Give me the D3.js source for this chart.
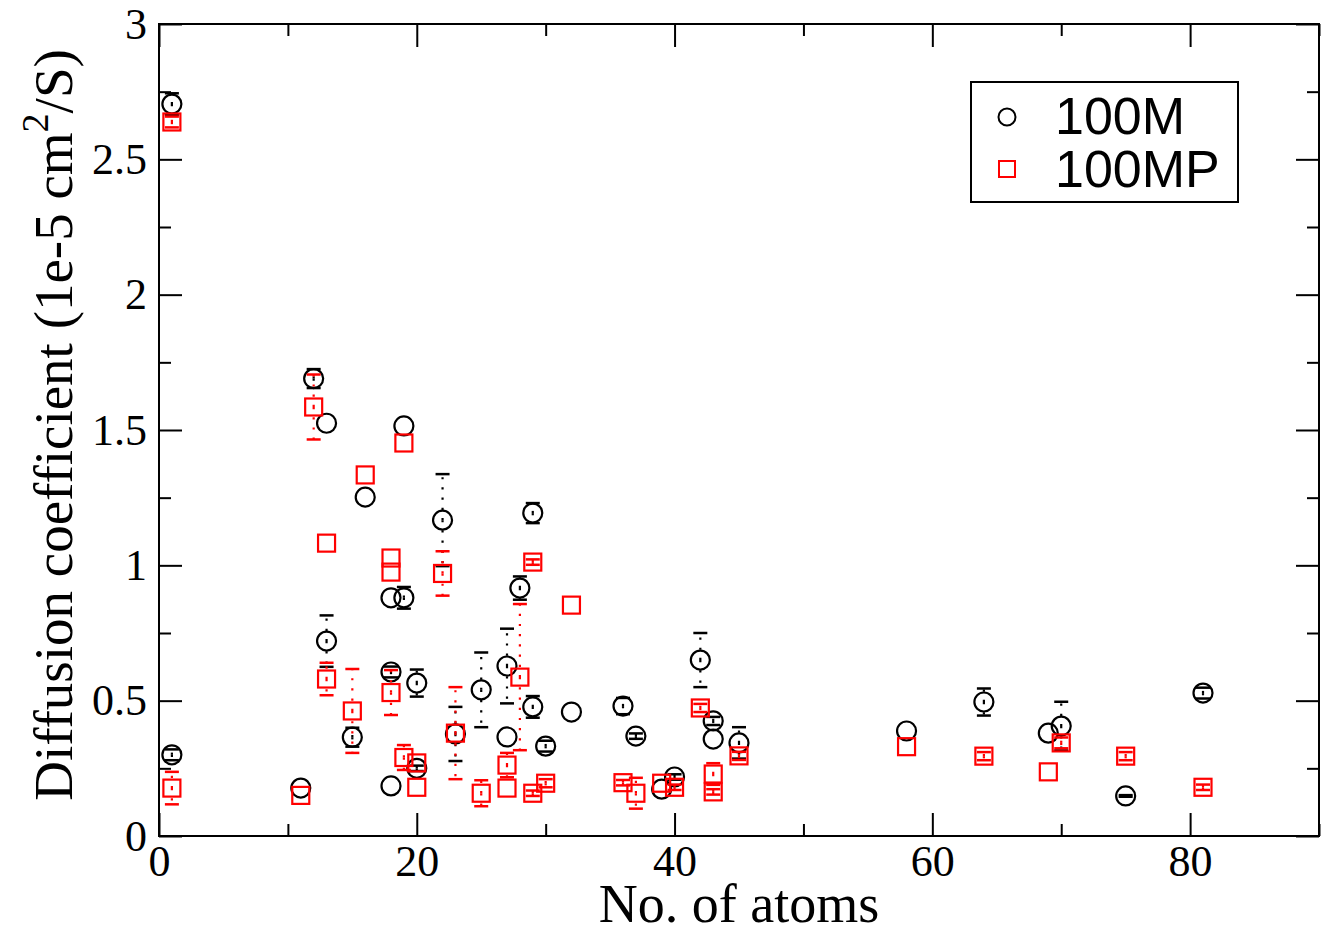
<!DOCTYPE html>
<html>
<head>
<meta charset="utf-8">
<script src="https://cdn.jsdelivr.net/npm/d3@7"></script>
<style>
  body { margin: 0; background: #fff; }
  svg { display: block; }
</style>
</head>
<body>
<div id="container"></div>
<script>
// data: x = no. of atoms, y = diffusion coeff, e = +/- error
let xM = [1, 1, 11, 12, 13, 13, 15, 16, 18, 18, 18, 19, 19, 20, 20, 22, 23, 25, 27, 27, 28, 29, 29, 30, 32, 36, 37, 39, 40, 42, 43, 43, 45, 58, 64, 69, 70, 75, 81];
let yM = [2.704, 0.30, 0.177, 1.69, 1.525, 0.72, 0.365, 1.252, 0.88, 0.606, 0.185, 1.515, 0.88, 0.565, 0.25, 1.167, 0.377, 0.54, 0.628, 0.366, 0.916, 1.193, 0.477, 0.332, 0.458, 0.48, 0.369, 0.173, 0.218, 0.65, 0.425, 0.358, 0.344, 0.388, 0.495, 0.38, 0.406, 0.148, 0.528];
let eM = [0.04, 0.02, 0, 0.035, 0, 0.095, 0.035, 0, 0, 0.02, 0, 0, 0.04, 0.05, 0.01, 0.17, 0.1, 0.138, 0.138, 0, 0.043, 0.037, 0.04, 0.02, 0, 0.03, 0.01, 0, 0.01, 0.1, 0.015, 0, 0.058, 0, 0.05, 0, 0.09, 0.003, 0.02];

let xMP = [1, 1, 11, 12, 13, 13, 15, 16, 18, 18, 18, 19, 19, 20, 20, 22, 23, 25, 27, 27, 28, 29, 29, 30, 32, 36, 37, 39, 40, 42, 43, 43, 45, 58, 64, 69, 70, 75, 81];
let yMP = [2.638, 0.177, 0.15, 1.585, 1.082, 0.58, 0.462, 1.334, 1.027, 0.975, 0.53, 1.452, 0.29, 0.27, 0.18, 0.97, 0.38, 0.158, 0.262, 0.177, 0.587, 1.012, 0.158, 0.195, 0.853, 0.197, 0.158, 0.195, 0.18, 0.473, 0.229, 0.163, 0.296, 0.33, 0.295, 0.237, 0.344, 0.295, 0.18];
let eMP = [0.02, 0.06, 0, 0.12, 0, 0.06, 0.155, 0, 0, 0, 0.083, 0, 0.046, 0, 0, 0.082, 0.17, 0.048, 0.045, 0, 0.27, 0.01, 0.01, 0.015, 0, 0.01, 0.057, 0, 0.01, 0.015, 0.04, 0.01, 0.015, 0, 0.015, 0, 0.02, 0.015, 0.01];

let seriesNames = ["100M", "100MP"];
let xMajor = [0, 20, 40, 60, 80];
let xMinor = [10, 30, 50, 70, 90];
let yMajor = [0, 0.5, 1, 1.5, 2, 2.5, 3];
let yMinor = [0.25, 0.75, 1.25, 1.75, 2.25, 2.75];

let w = 1321;
let h = 933;
// plot box (window.top is taken, so p-prefixed)
let pLeft = 159, pTop = 24, pRight = 1319, pBottom = 836;

let viz = d3.select("#container")
  .append("svg")
    .attr("width", w)
    .attr("height", h)
;

let xScale = d3.scaleLinear().domain([0, 90]).range([pLeft, pRight]);
let yScale = d3.scaleLinear().domain([0, 3]).range([pBottom, pTop]);

let serif = "'Liberation Serif', 'Times New Roman', serif";

// axes, ticks pointing inwards on all four sides
function addAxis(axis, tx, ty, vals, len, labels){
  let g = viz.append("g")
    .attr("transform", "translate(" + tx + "," + ty + ")")
    .call(axis.tickValues(vals).tickSize(-len).tickSizeOuter(0));
  g.select(".domain").remove();
  g.selectAll("line").attr("stroke", "#000").attr("stroke-width", 2);
  if(!labels){
    g.selectAll("text").remove();
  }
  return g;
}

let xb = addAxis(d3.axisBottom(xScale).tickPadding(9), 0, pBottom, xMajor, 23, true);
xb.selectAll("text").attr("font-family", serif).attr("font-size", 44).attr("fill", "#000");
addAxis(d3.axisBottom(xScale), 0, pBottom, xMinor, 12, false);
addAxis(d3.axisTop(xScale), 0, pTop, xMajor, 23, false);
addAxis(d3.axisTop(xScale), 0, pTop, xMinor, 12, false);

let yl = addAxis(d3.axisLeft(yScale).tickPadding(12).tickFormat(d3.format("")), pLeft, 0, yMajor, 23, true);
yl.selectAll("text").attr("font-family", serif).attr("font-size", 44).attr("fill", "#000");
addAxis(d3.axisLeft(yScale), pLeft, 0, yMinor, 12, false);
addAxis(d3.axisRight(yScale), pRight, 0, yMajor, 23, false);
addAxis(d3.axisRight(yScale), pRight, 0, yMinor, 12, false);

// frame
viz.append("rect")
  .attr("x", pLeft).attr("y", pTop)
  .attr("width", pRight - pLeft).attr("height", pBottom - pTop)
  .attr("fill", "none").attr("stroke", "#000").attr("stroke-width", 2)
;

// axis titles
viz.append("text")
  .attr("x", (pLeft + pRight) / 2)
  .attr("y", 922)
  .attr("text-anchor", "middle")
  .attr("font-family", serif)
  .attr("font-size", 54)
  .text("No. of atoms")
;

let ylab = viz.append("text")
  .attr("transform", "translate(72,425) rotate(-90)")
  .attr("text-anchor", "middle")
  .attr("font-family", serif)
  .attr("font-size", 55)
;
ylab.append("tspan").text("Diffusion coefficient (1e-5 cm");
ylab.append("tspan").attr("dy", -24).attr("font-size", 38).text("2");
ylab.append("tspan").attr("dy", 24).text("/S)");

let plot = viz.append("g");

// error bars: dotted line going out from the centre, with a cap at each end
function drawErrors(xs, ys, es, color){
  let pts = xs.map(function(d, i){ return {x: d, y: ys[i], e: es[i]}; })
    .filter(function(d){ return d.e > 0; });
  let g = plot.append("g");
  let grp = g.selectAll(".err").data(pts).enter().append("g").classed("err", true);
  [1, -1].forEach(function(s){
    grp.append("line")
      .attr("x1", function(d){ return xScale(d.x); })
      .attr("x2", function(d){ return xScale(d.x); })
      .attr("y1", function(d){ return yScale(d.y); })
      .attr("y2", function(d){ return yScale(d.y + s * d.e); })
      .attr("stroke", color)
      .attr("stroke-width", 2.2)
      .attr("stroke-dasharray", "2.2,8")
    ;
    grp.append("line")
      .attr("x1", function(d){ return xScale(d.x) - 7; })
      .attr("x2", function(d){ return xScale(d.x) + 7; })
      .attr("y1", function(d){ return yScale(d.y + s * d.e); })
      .attr("y2", function(d){ return yScale(d.y + s * d.e); })
      .attr("stroke", color)
      .attr("stroke-width", 2.5)
    ;
  });
}

drawErrors(xM, yM, eM, "#000");
plot.append("g").selectAll("circle").data(xM).enter().append("circle")
  .attr("cx", function(d){ return xScale(d); })
  .attr("cy", function(d, i){ return yScale(yM[i]); })
  .attr("r", 9.5)
  .attr("fill", "none")
  .attr("stroke", "#000")
  .attr("stroke-width", 2.2)
;

drawErrors(xMP, yMP, eMP, "#ff0000");
plot.append("g").selectAll("rect").data(xMP).enter().append("rect")
  .attr("x", function(d){ return xScale(d) - 8.5; })
  .attr("y", function(d, i){ return yScale(yMP[i]) - 8.5; })
  .attr("width", 17)
  .attr("height", 17)
  .attr("fill", "none")
  .attr("stroke", "#ff0000")
  .attr("stroke-width", 2.2)
;

// legend
let legend = viz.append("g");
legend.append("rect")
  .attr("x", 971).attr("y", 82).attr("width", 267).attr("height", 120)
  .attr("fill", "#fff").attr("stroke", "#000").attr("stroke-width", 2)
;
legend.append("circle")
  .attr("cx", 1007).attr("cy", 117).attr("r", 8.5)
  .attr("fill", "none").attr("stroke", "#000").attr("stroke-width", 2);
legend.append("rect")
  .attr("x", 999).attr("y", 161).attr("width", 16).attr("height", 16)
  .attr("fill", "none").attr("stroke", "#ff0000").attr("stroke-width", 2);
legend.selectAll(".lab").data(seriesNames).enter().append("text")
  .classed("lab", true)
  .attr("x", 1055)
  .attr("y", function(d, i){ return 134 + i * 53; })
  .attr("font-family", "'Liberation Sans', Arial, sans-serif")
  .attr("font-size", 52)
  .text(function(d){ return d; })
;
</script>
</body>
</html>
